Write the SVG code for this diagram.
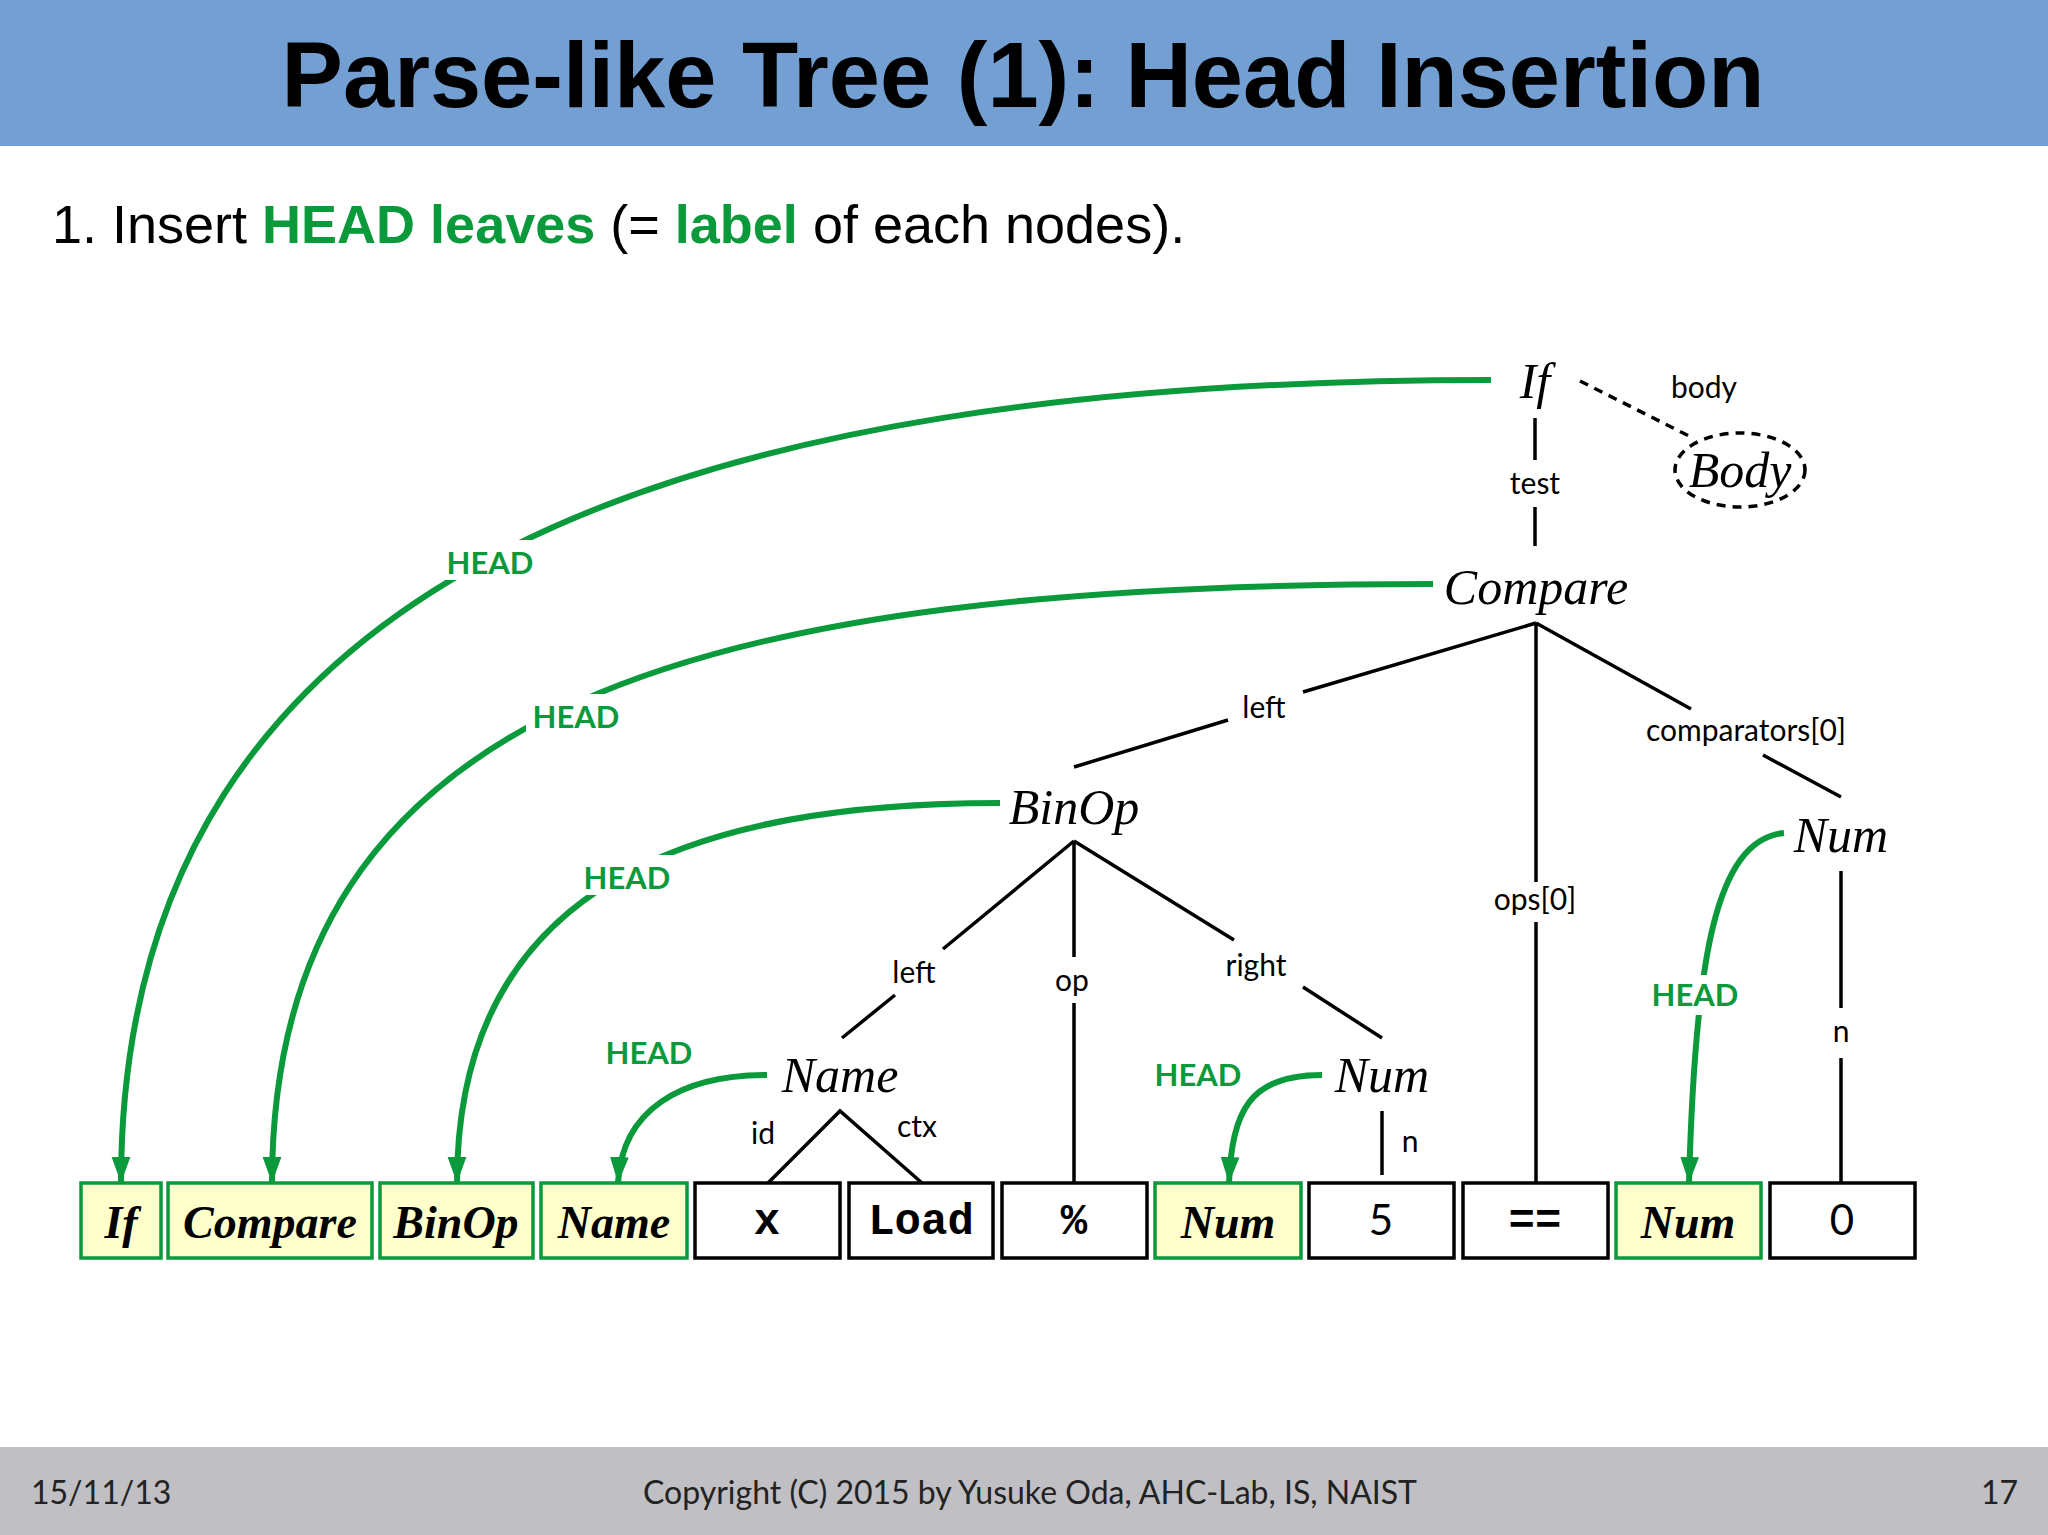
<svg xmlns="http://www.w3.org/2000/svg" width="2048" height="1535" viewBox="0 0 2048 1535">
<style>
.t{font-family:"Liberation Serif",serif;font-style:italic;font-size:50px;text-anchor:middle;fill:#000}
.l{font-family:Lato,"Open Sans",sans-serif;font-size:30px;text-anchor:middle;fill:#000}
.h{font-family:Lato,"Open Sans",sans-serif;font-size:31px;font-weight:bold;text-anchor:middle;fill:#0a9a3c}
.e{stroke:#000;stroke-width:3.5;fill:none}
.g{stroke:#0a9a3c;stroke-width:6;fill:none;marker-end:url(#ar)}
.gb{fill:#ffffcc;stroke:#0a9a3c;stroke-width:3.5}
.bb{fill:#fff;stroke:#000;stroke-width:3.5}
.gt{font-family:"Liberation Serif",serif;font-style:italic;font-weight:bold;font-size:46px;text-anchor:middle}
.mt{font-family:"Liberation Mono",monospace;font-weight:bold;font-size:44px;text-anchor:middle}
.st{font-family:Lato,"Open Sans",sans-serif;font-size:42px;text-anchor:middle}
</style>
<defs>
<marker id="ar" markerWidth="26" markerHeight="36" refX="36" refY="13" orient="auto" markerUnits="userSpaceOnUse" viewBox="0 0 36 26">
<path d="M0,0 L36,13 L0,26 Z" fill="#0a9a3c"/>
</marker>
</defs>
<rect x="0" y="0" width="2048" height="146" fill="#739fd2"/>
<text x="1023" y="107" font-family="Liberation Sans,Arial,sans-serif" font-weight="bold" font-size="92" text-anchor="middle">Parse-like Tree (1): Head Insertion</text>
<text x="52" y="243" font-family="Liberation Sans,Arial,sans-serif" font-size="54">1. Insert <tspan fill="#0a9a3c" font-weight="bold">HEAD leaves</tspan> (= <tspan fill="#0a9a3c" font-weight="bold">label</tspan> of each nodes).</text>
<rect x="0" y="1447" width="2048" height="88" fill="#c0bfc4"/>
<g font-family="Lato,'Open Sans',sans-serif" font-size="32" fill="#222">
<text x="31" y="1504">15/11/13</text>
<text x="1030" y="1504" text-anchor="middle">Copyright (C) 2015 by Yusuke Oda, AHC-Lab, IS, NAIST</text>
<text x="2018" y="1504" text-anchor="end">17</text>
</g>
<g id="connectors">
<path class="e" d="M1535,418 V460 M1535,507 V546"/>
<path d="M1580,381 L1691,437" stroke="#000" stroke-width="3.5" stroke-dasharray="9,7"/>
<path class="e" d="M1536,623 L1303,692 M1228,720 L1074,767"/>
<path class="e" d="M1536,623 V882 M1536,922 V1183"/>
<path class="e" d="M1536,623 L1691,709 M1763,755 L1841,797"/>
<path class="e" d="M1841,871 V1008 M1841,1058 V1183"/>
<path class="e" d="M1074,841 L943,949 M895,995 L842,1038"/>
<path class="e" d="M1074,841 V957 M1074,1003 V1183"/>
<path class="e" d="M1074,841 L1234,940 M1303,987 L1382,1038"/>
<path class="e" d="M768,1183 L840,1111 L922,1183"/>
<path class="e" d="M1382,1111 V1175"/>
<path class="g" d="M1491,380 C700,380 121,560 121,1183"/>
<path class="g" d="M1433,584 C700,584 272,700 272,1183"/>
<path class="g" d="M1000,803 C700,803 457,880 457,1183"/>
<path class="g" d="M767,1075 C680,1075 622,1110 618,1183"/>
<path class="g" d="M1322,1075 C1250,1075 1232,1110 1229,1183"/>
<path class="g" d="M1784,833 C1715,840 1695,960 1689,1183"/>
<rect x="440" y="540" width="100" height="40" fill="#fff"/>
<rect x="526" y="694" width="100" height="40" fill="#fff"/>
<rect x="577" y="855" width="100" height="40" fill="#fff"/>
<rect x="1645" y="975" width="100" height="40" fill="#fff"/>
<text class="h" x="490" y="574">HEAD</text>
<text class="h" x="576" y="728">HEAD</text>
<text class="h" x="627" y="889">HEAD</text>
<text class="h" x="649" y="1064">HEAD</text>
<text class="h" x="1198" y="1086">HEAD</text>
<text class="h" x="1695" y="1006">HEAD</text>
<text class="l" x="1535" y="494">test</text>
<text class="l" x="1704" y="398">body</text>
<text class="l" x="1264" y="718">left</text>
<text class="l" x="1535" y="910">ops[0]</text>
<text class="l" x="1746" y="741">comparators[0]</text>
<text class="l" x="1841" y="1042">n</text>
<text class="l" x="914" y="983">left</text>
<text class="l" x="1072" y="991">op</text>
<text class="l" x="1256" y="976">right</text>
<text class="l" x="763" y="1144">id</text>
<text class="l" x="917" y="1137">ctx</text>
<text class="l" x="1410" y="1152">n</text>
</g>
<g id="n-if"><text class="t" x="1535" y="398">If</text></g>
<g id="n-body"><ellipse cx="1740" cy="470" rx="65" ry="37" fill="none" stroke="#000" stroke-width="3.5" stroke-dasharray="9,7"/><text class="t" x="1740" y="487">Body</text></g>
<g id="n-compare"><text class="t" x="1536" y="604">Compare</text></g>
<g id="n-num2"><text class="t" x="1841" y="852">Num</text></g>
<g id="n-binop"><text class="t" x="1074" y="824">BinOp</text></g>
<g id="n-name"><text class="t" x="840" y="1092">Name</text></g>
<g id="n-num1"><text class="t" x="1382" y="1092">Num</text></g>
<g id="leaves">
<g id="b1"><rect class="gb" x="81" y="1183" width="80" height="75"/><text class="gt" x="121" y="1238">If</text></g>
<g id="b2"><rect class="gb" x="168" y="1183" width="204" height="75"/><text class="gt" x="270" y="1238">Compare</text></g>
<g id="b3"><rect class="gb" x="380" y="1183" width="153" height="75"/><text class="gt" x="456" y="1238">BinOp</text></g>
<g id="b4"><rect class="gb" x="541" y="1183" width="146" height="75"/><text class="gt" x="614" y="1238">Name</text></g>
<g id="b5"><rect class="bb" x="695" y="1183" width="145" height="75"/><text class="mt" x="767" y="1234">x</text></g>
<g id="b6"><rect class="bb" x="849" y="1183" width="144" height="75"/><text class="mt" x="921" y="1234">Load</text></g>
<g id="b7"><rect class="bb" x="1002" y="1183" width="145" height="75"/><text class="mt" x="1074" y="1234">%</text></g>
<g id="b8"><rect class="gb" x="1155" y="1183" width="146" height="75"/><text class="gt" x="1228" y="1238">Num</text></g>
<g id="b9"><rect class="bb" x="1309" y="1183" width="145" height="75"/><text class="st" x="1381" y="1235">5</text></g>
<g id="b10"><rect class="bb" x="1463" y="1183" width="145" height="75"/><text class="mt" x="1535" y="1234">==</text></g>
<g id="b11"><rect class="gb" x="1616" y="1183" width="145" height="75"/><text class="gt" x="1688" y="1238">Num</text></g>
<g id="b12"><rect class="bb" x="1770" y="1183" width="145" height="75"/><text class="st" x="1842" y="1235">0</text></g>
</g>
</svg>
